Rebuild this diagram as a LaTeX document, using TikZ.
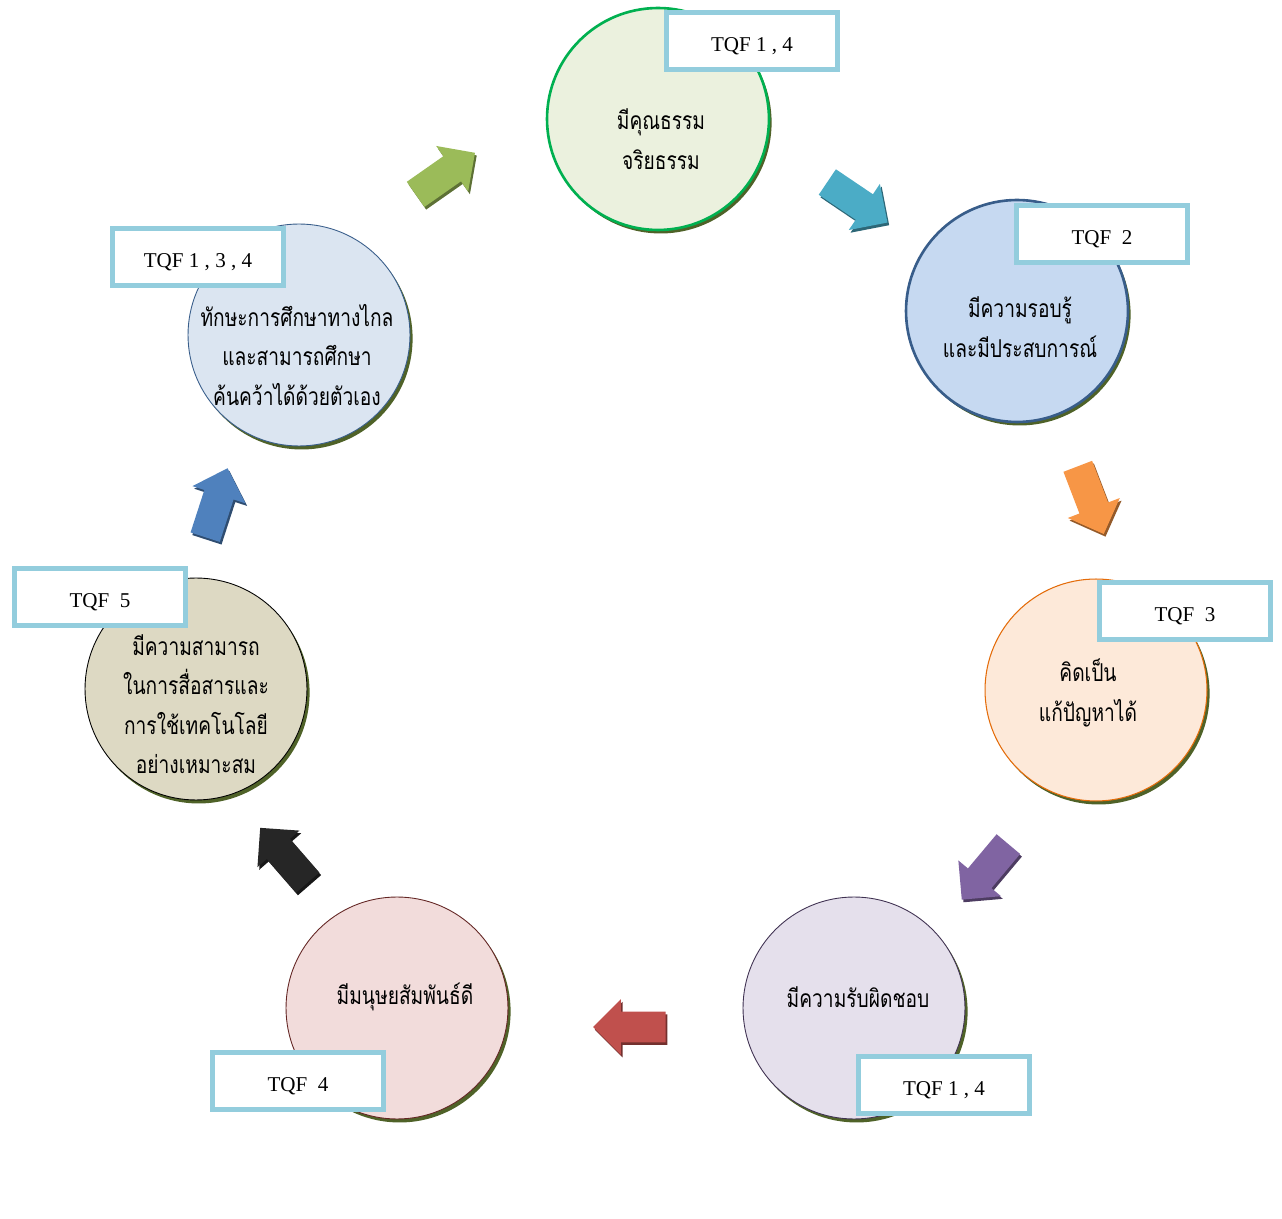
\documentclass[tikz,border=0pt]{standalone}
\usepackage{fontspec}
\setmainfont{Liberation Serif}
\newfontfamily\thaifont[Script=Thai,FakeStretch=0.78]{Loma}
\usetikzlibrary{shapes.arrows,shadows}
\definecolor{tqfblue}{HTML}{93CDDD}
\definecolor{shadowolive}{HTML}{4F6228}
\definecolor{greenfill}{HTML}{EBF1DE}
\definecolor{greenline}{HTML}{00B050}
\definecolor{bluefill}{HTML}{C6D9F1}
\definecolor{blueline}{HTML}{385D8A}
\definecolor{orangefill}{HTML}{FDE9D9}
\definecolor{orangeline}{HTML}{E46C0A}
\definecolor{purplefill}{HTML}{E5E0EC}
\definecolor{purpleline}{HTML}{3F3151}
\definecolor{pinkfill}{HTML}{F2DCDB}
\definecolor{pinkline}{HTML}{632523}
\definecolor{tanfill}{HTML}{DDD9C3}
\definecolor{skyfill}{HTML}{DBE5F1}
\definecolor{arrowgreen}{HTML}{9BBB59}
\definecolor{arrowteal}{HTML}{4BACC6}
\definecolor{arroworange}{HTML}{F79646}
\definecolor{arrowpurple}{HTML}{8064A2}
\definecolor{arrowred}{HTML}{C0504D}
\definecolor{arrowblack}{HTML}{262626}
\definecolor{arrowblue}{HTML}{4F81BD}

\begin{document}
\begin{tikzpicture}[x=0.02cm,y=0.02cm,
		bubble/.style={circle,minimum size=4.44cm,inner sep=0pt,drop shadow={shadow xshift=1.5pt,shadow yshift=-2pt,fill=shadowolive,opacity=1}},
		bubbletext/.style={align=center,font=\thaifont\fontsize{14}{22.5}\selectfont},
		tqf/.style={draw=tqfblue,line width=2.8pt,fill=white,minimum width=3.42cm,minimum height=1.14cm,text height=1.22em,text depth=0pt,font=\fontsize{12}{14}\selectfont},
		turn/.style={single arrow,minimum height=1.45cm,single arrow head extend=0.25cm,inner xsep=0pt,inner ysep=0.3cm,fill=#1,drop shadow={shadow xshift=1pt,shadow yshift=-1.5pt,fill=#1!60!black,opacity=1}}]
		\useasboundingbox (0,0) rectangle (1282,1218);
		\node[bubble,draw=greenline,line width=1.5pt,fill=greenfill] (c1) at (658,1099) {};
		\node[bubble,draw=blueline,line width=1.5pt,fill=bluefill] (c2) at (1017,907) {};
		\node[bubble,draw=orangeline,line width=0.6pt,fill=orangefill] (c3) at (1096,528) {};
		\node[bubble,draw=purpleline,line width=0.5pt,fill=purplefill] (c4) at (854,210) {};
		\node[bubble,draw=pinkline,line width=0.5pt,fill=pinkfill] (c5) at (397,210) {};
		\node[bubble,draw=black,line width=0.5pt,fill=tanfill] (c6) at (196,529) {};
		\node[bubble,draw=blueline,line width=0.5pt,fill=skyfill] (c7) at (299,883) {};
		\node[bubbletext] (t1) at (661,1079) {มีคุณธรรม\\จริยธรรม};
		\node[bubbletext] (t2) at (1020,891) {มีความรอบรู้\\และมีประสบการณ์};
		\node[bubbletext] (t3) at (1088,525) {คิดเป็น\\แก้ปัญหาได้};
		\node[bubbletext] (t4) at (858,221) {มีความรับผิดชอบ};
		\node[bubbletext] (t5) at (405,221) {มีมนุษยสัมพันธ์ดี};
		\node[bubbletext] (t6) at (196,514) {มีความสามารถ\\ในการสื่อสารและ\\การใช้เทคโนโลยี\\อย่างเหมาะสม};
		\node[bubbletext] (t7) at (297,863) {ทักษะการศึกษาทางไกล\\และสามารถศึกษา\\ค้นคว้าได้ด้วยตัวเอง};
		\node[tqf] (b1) at (752,1177) {TQF 1 , 4};
		\node[tqf] (b2) at (1102,984) {TQF\ \ 2};
		\node[tqf] (b3) at (1185,607) {TQF\ \ 3};
		\node[tqf] (b4) at (944,133) {TQF 1 , 4};
		\node[tqf] (b5) at (298,137) {TQF\ \ 4};
		\node[tqf] (b6) at (100,621) {TQF\ \ 5};
		\node[tqf] (b7) at (198,961) {TQF 1 , 3 , 4};
		\node[turn=arrowteal,rotate=-34] (a12) at (851,1020) {};
		\node[turn=arroworange,rotate=-69] (a23) at (1088,725) {};
		\node[turn=arrowpurple,rotate=230] (a34) at (990,352) {};
		\node[turn=arrowred,rotate=180] (a45) at (637,191) {};
		\node[turn=arrowblack,rotate=131] (a56) at (289,357) {};
		\node[turn=arrowblue,rotate=72] (a67) at (214,708) {};
		\node[turn=arrowgreen,rotate=35] (a71) at (439,1040) {};
\end{tikzpicture}
\end{document}
